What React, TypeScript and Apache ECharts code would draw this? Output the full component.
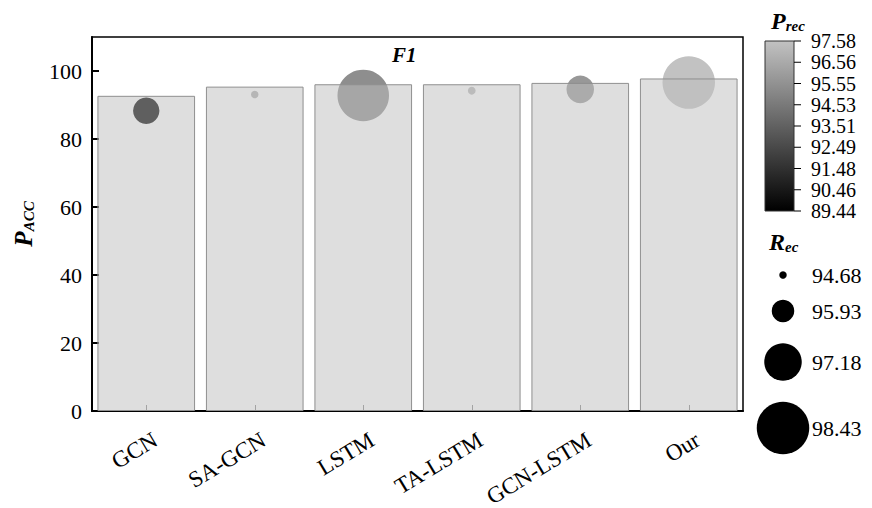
import React, { useEffect, useRef } from "react";
import * as echarts from "echarts";

const categories = ["GCN", "SA-GCN", "LSTM", "TA-LSTM", "GCN-LSTM", "Our"];
const pAcc = [92.7, 95.4, 96.1, 96.1, 96.5, 97.8];
const f1 = [88.3, 93.1, 92.8, 94.2, 94.6, 96.6];
const pRec = [89.44, 96.8, 95.4, 97.15, 95.8, 97.58];
const rec = [96.25, 94.68, 98.35, 94.7, 96.35, 98.43];
const yTicks = [0, 20, 40, 60, 80, 100];
const precTicks = ["97.58", "96.56", "95.55", "94.53", "93.51", "92.49", "91.48", "90.46", "89.44"];
const recLegend = [94.68, 95.93, 97.18, 98.43];

const PREC_MIN = 89.44;
const PREC_MAX = 97.58;
const FONT = "'Liberation Serif', 'Times New Roman', serif";

const bubbleSize = (r: number) => 7.5 + (r - 94.68) * 12;

export default function App() {
  const ref = useRef<HTMLDivElement>(null);
  useEffect(() => {
    if (!ref.current) return;
    const chart = echarts.init(ref.current, undefined, { renderer: "svg" });

    const barTop = 41;
    const barH = 170;
    const barX = 765;
    const barW = 29;
    const graphics: any[] = [];
    graphics.push({
      type: "text",
      left: 392,
      top: 44,
      style: { text: "F1", font: `bold italic 21px ${FONT}`, fill: "#000" },
    });
    graphics.push({
      type: "text",
      left: 771,
      top: 9,
      style: {
        text: "{p|P}{s|rec}",
        rich: {
          p: { font: `bold italic 24px ${FONT}`, fill: "#000" },
          s: { font: `bold italic 15px ${FONT}`, fill: "#000", padding: [10, 0, 0, 0] },
        },
      },
    });
    graphics.push({
      type: "rect",
      shape: { x: barX, y: barTop, width: barW, height: barH },
      style: {
        fill: new echarts.graphic.LinearGradient(0, 0, 0, 1, [
          { offset: 0, color: "#c2c2c2" },
          { offset: 1, color: "#000000" },
        ]),
        stroke: "#333",
        lineWidth: 1,
      },
    });
    precTicks.forEach((t, i) => {
      const y = barTop + (barH * i) / (precTicks.length - 1);
      graphics.push({
        type: "line",
        shape: { x1: barX + barW, y1: y, x2: barX + barW + 7, y2: y },
        style: { stroke: "#000", lineWidth: 1 },
      });
      graphics.push({
        type: "text",
        x: 811,
        y: y,
        style: { text: t, font: `20px ${FONT}`, fill: "#000", verticalAlign: "middle", align: "left" },
      });
    });
    graphics.push({
      type: "text",
      left: 769,
      top: 230,
      style: {
        text: "{p|R}{s|ec}",
        rich: {
          p: { font: `bold italic 24px ${FONT}`, fill: "#000" },
          s: { font: `bold italic 15px ${FONT}`, fill: "#000", padding: [10, 0, 0, 0] },
        },
      },
    });
    const legendY = [275, 311, 362, 428];
    recLegend.forEach((v, i) => {
      graphics.push({
        type: "circle",
        shape: { cx: 783, cy: legendY[i], r: bubbleSize(v) / 2 },
        style: { fill: "#000" },
      });
      graphics.push({
        type: "text",
        x: 812,
        y: legendY[i],
        style: { text: v.toFixed(2), font: `22px ${FONT}`, fill: "#000", verticalAlign: "middle", align: "left" },
      });
    });

    chart.setOption({
      animation: false,
      textStyle: { fontFamily: FONT },
      grid: {
        left: 92,
        top: 37,
        right: 129,
        bottom: 97,
        show: true,
        borderColor: "#000",
        borderWidth: 1.5,
        backgroundColor: "transparent",
      },
      xAxis: {
        type: "category",
        data: categories,
        axisLine: { show: true, lineStyle: { color: "#000", width: 2 } },
        axisTick: { show: true, inside: true, alignWithLabel: true, length: 6, lineStyle: { color: "#888" } },
        axisLabel: { show: false },
        splitLine: { show: false },
      },
      yAxis: {
        type: "value",
        min: 0,
        max: 110,
        interval: 20,
        name: "{p|P}{s|ACC}",
        nameLocation: "middle",
        nameGap: 56,
        nameRotate: 90,
        nameTextStyle: {
          rich: {
            p: { fontFamily: FONT, fontSize: 25, fontWeight: "bold", fontStyle: "italic", color: "#000" },
            s: { fontFamily: FONT, fontSize: 15, fontWeight: "bold", fontStyle: "italic", color: "#000", padding: [10, 0, 0, 0] },
          },
        },
        axisLine: { show: true, lineStyle: { color: "#000", width: 2 } },
        axisTick: { show: true, inside: true, length: 7, lineStyle: { color: "#000", width: 2 } },
        axisLabel: {
          fontSize: 22,
          color: "#000",
          margin: 10,
          fontFamily: FONT,
          showMaxLabel: false,
          formatter: (v: number) => (yTicks.includes(v) ? String(v) : ""),
        },
        splitLine: { show: false },
      },
      visualMap: {
        show: false,
        type: "continuous",
        seriesIndex: 1,
        dimension: 2,
        min: PREC_MIN,
        max: PREC_MAX,
        inRange: { color: ["#000000", "#c2c2c2"] },
      },
      series: [
        {
          type: "bar",
          z: 3,
          data: pAcc,
          barCategoryGap: "10%",
          itemStyle: { color: "rgba(189,189,189,0.5)", borderColor: "#8f8f8f", borderWidth: 1 },
        },
        {
          type: "scatter",
          z: 2,
          data: categories.map((c, i) => [i, f1[i], pRec[i], rec[i]]),
          symbolSize: (val: number[]) => bubbleSize(val[3]),
          itemStyle: { opacity: 1 },
        },
      ],
      graphic: graphics,
    });

    // category labels, placed from the axis' own scale
    const labelGraphics = categories.map((c, i) => {
      const p = chart.convertToPixel({ gridIndex: 0 }, [i, 0]) as number[];
      return {
        type: "text",
        x: p[0] + 9,
        y: p[1] + 27,
        rotation: (31 * Math.PI) / 180,
        style: { text: c, font: `23px ${FONT}`, fill: "#000", align: "right", verticalAlign: "middle" },
      };
    });
    chart.setOption({ graphic: [...graphics, ...labelGraphics] }, { replaceMerge: ["graphic"] });

    return () => chart.dispose();
  }, []);
  return <div ref={ref} style={{ width: 872, height: 508, position: "absolute", left: 0, top: 0 }} />;
}
